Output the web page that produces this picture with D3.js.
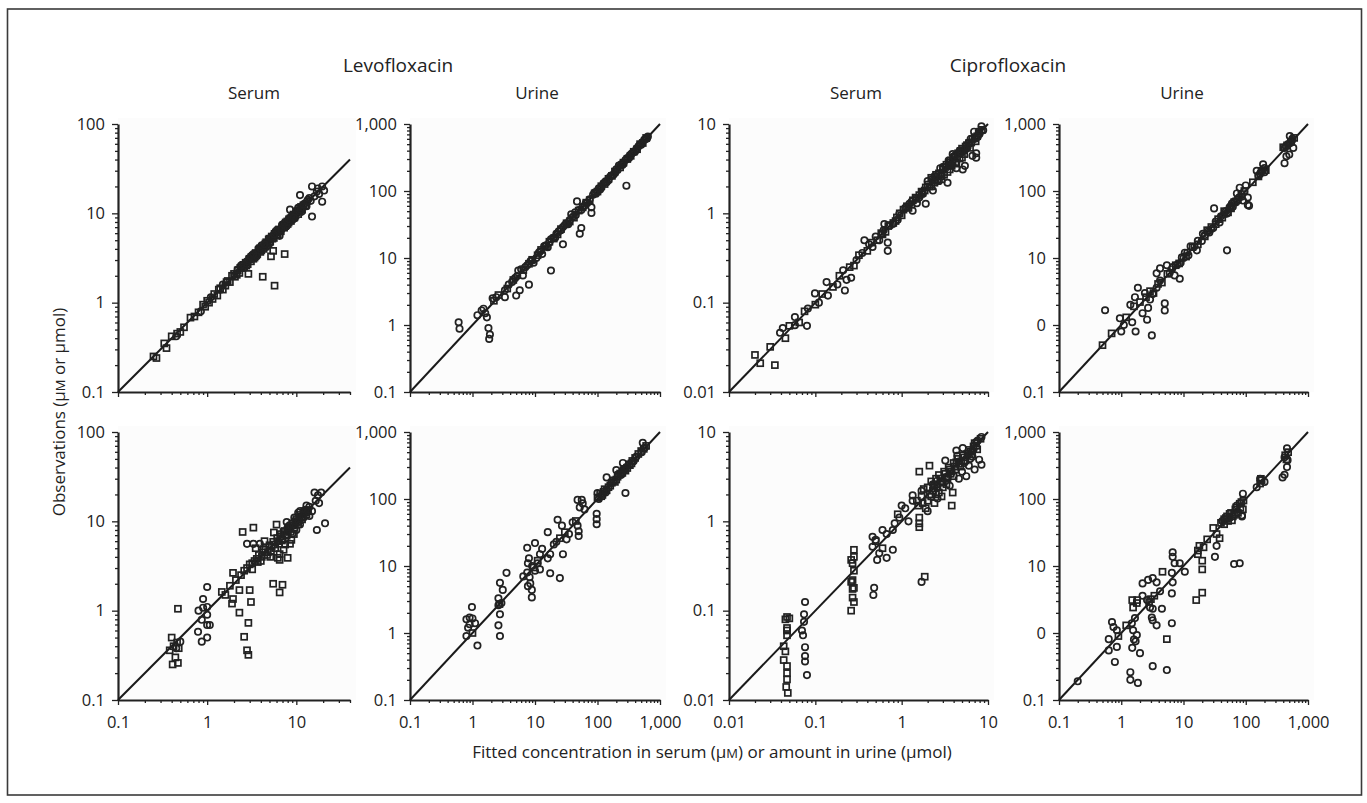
<!DOCTYPE html>
<html>
<head>
<meta charset="utf-8">
<script src="https://cdn.jsdelivr.net/npm/d3@7"></script>
<style>
  body { margin: 0; background: #fff; }
  text { font-family: "Open Sans", sans-serif; fill: #222; }
</style>
</head>
<body>
<svg id="chart" width="1367" height="803"></svg>
<script>
// Column / row headings
const drugs = ['Levofloxacin', 'Ciprofloxacin'];
const matrices = ['Serum', 'Urine', 'Serum', 'Urine'];

// Tick values and their printed labels (the original prints "0" for 1 on the cipro urine y axis)
const levoSerumTicks = [0.1, 1, 10, 100];
const levoSerumLabels = ['0.1', '1', '10', '100'];
const urineTicks = [0.1, 1, 10, 100, 1000];
const urineLabels = ['0.1', '1', '10', '100', '1,000'];
const ciproUrineYLabels = ['0.1', '0', '10', '100', '1,000'];
const ciproSerumTicks = [0.01, 0.1, 1, 10];
const ciproSerumLabels = ['0.01', '0.1', '1', '10'];
const levoSerumXTicks = [0.1, 1, 10];
const levoSerumXLabels = ['0.1', '1', '10'];

// Observations vs fitted values, [fitted, observed]
const levoSerumTopSq = [[0.25,0.25],[0.27,0.24],[0.33,0.35],[0.35,0.31],[0.4,0.42],[0.46,0.45],[0.5,0.47],[0.55,0.53],[0.65,0.68],[0.72,0.7],[0.8,0.78],[0.9,0.95],[0.95,0.9],[1.05,1.0],[1.2,1.25],[1.3,1.2],[1.4,1.45],[1.6,1.55],[1.7,1.75],[1.8,1.7],[1.9,2.0],[2.05,1.95],[2.2,2.3],[2.3,2.15],[2.45,2.5],[2.6,2.5],[2.7,2.8],[2.85,2.7],[2.9,2.1],[3.0,3.1],[3.1,2.9],[3.25,3.35],[3.4,3.2],[3.5,3.6],[3.65,3.5],[3.8,3.95],[3.95,3.7],[4.1,4.2],[4.2,1.95],[4.3,4.0],[4.5,4.6],[4.7,4.4],[4.9,5.1],[5.1,4.8],[5.2,3.3],[5.3,5.5],[5.5,3.8],[5.6,5.3],[5.7,1.55],[5.9,6.1],[6.2,5.8],[6.4,6.6],[6.7,6.3],[7.0,7.2],[7.3,6.9],[7.4,3.5],[7.6,7.9],[8.0,7.6],[8.3,8.6],[8.7,8.2],[9.1,9.4],[9.5,9.0],[10,10.3],[10.5,9.8],[11,11.4],[11.6,11],
  [1.0,1.05],[1.15,1.1],[1.35,1.4],[1.5,1.4],[1.65,1.7],[2.0,2.1],[2.15,2.05],[2.35,2.45],[2.55,2.65],[2.75,2.6],[2.95,3.05],[3.15,3.25],[3.3,3.1],[3.55,3.45],[3.75,3.85],[3.9,4.05],[4.05,3.85],[4.4,4.3],[4.6,4.75],[4.8,4.6],[5.0,5.2],[5.4,5.2],[5.7,5.9],[6.0,5.7],[6.3,6.5],[6.6,6.4],[6.9,7.0],[7.2,7.4],[7.5,7.2],[7.9,8.1],[8.2,7.9],[8.6,8.8],[9.0,8.8],[9.3,9.7],[9.8,9.5],[10.3,10.6],[10.8,10.4],[11.3,11.8],[12,12.3],[12.6,12.2]];
const levoSerumTopCirc = [[0.45,0.42],[0.85,0.8],[1.1,1.15],[1.5,1.6],[2.2,2.35],[2.6,2.45],[3.1,3.3],[3.6,3.3],[4.1,4.4],[4.6,4.2],[5.0,4.6],[6.0,6.4],[6.5,5.6],[7.0,7.5],[7.8,7.2],[8.5,11],[9.0,8.4],[9.6,8.8],[10,10.5],[10.5,11.5],[11,16],[11.5,10.5],[12.3,12.8],[13,12],[13.5,14.2],[14.5,13.8],[15,20],[15,9.2],[16,15.5],[17,17.5],[18,16.5],[19.5,20],[20.5,18],[19.5,13.5],[17.5,19],
  [2.4,2.6],[2.8,2.9],[3.3,3.5],[3.9,4.1],[4.4,4.5],[5.2,5.4],[5.6,5.8],[6.8,6.6],[7.4,7.8],[8.2,8.6],[8.8,9.2],[9.3,9.0],[11.2,11.0],[12.0,12.5],[13.2,13.6],[14.0,14.8]];

const levoUrineTopCirc = [[0.6,1.1],[0.62,0.88],[1.2,1.4],[1.4,1.65],[1.5,1.75],[1.6,1.5],[1.7,1.3],[1.8,0.9],[1.9,0.72],[1.85,0.62],[2.1,2.5],[2.4,2.6],[3.3,3.3],[3.3,2.6],[3.8,4],[4.3,4.4],[5,2.75],[5.4,6.5],[5.7,3.3],[6,6.8],[6.4,5.5],[7,7.3],[8,4],[8.5,9],[9.5,8.5],[10.5,10],[12,12.5],[13,11.5],[14,15],[16,14.5],[18,6.5],[18,19],[21,20],[24,25],[28,16],[30,31],[34,32],[38,45],[44,48],[47,70],[52,23],[55,28],[55,52],[62,60],[70,68],[80,57],[80,47],[85,88],[95,92],[110,105],[125,130],[140,135],[160,165],[180,175],[200,210],[220,240],[250,245],[280,290],[290,120],[320,310],[350,360],[400,390],[450,460],[500,490],[560,580],[620,610],
  [4.8,5],[5.2,5.4],[7.5,7.8],[9,9.2],[11.5,12],[15,15.5],[17,17],[19.5,20],[22,23],[26,26],[28,29],[32,33],[36,37],[40,41],[45,44],[50,52],[58,58],[65,66],[75,75],[90,95],[100,100],[105,110],[115,112],[135,140],[150,145],[170,172],[190,185],[210,205],[240,250],[260,255],[300,310],[330,340],[370,375],[420,425],[470,480],[520,530],[580,590],[640,650]];
const levoUrineTopSq = [[2.2,2.3],[2.6,2.8],[3.6,3.5],[4.5,4.7],[6.5,6.6],[8,8.2],[9,9.4],[11,11],[12.5,13.2],[15,14.8],[17,17.5],[20,19.5],[23,22.5],[26,27],[32,33],[36,35],[42,40],[50,51],[58,57],[66,67],[75,73],[90,92],[100,98],[115,118],[130,127],[150,152],[170,168],[190,195],[230,225],[260,265],[300,300],[340,335],[380,385],[430,420],[480,500],[530,520],[600,620]];

const ciproSerumTopCirc = [[0.039,0.046],[0.042,0.052],[0.058,0.056],[0.08,0.055],[0.058,0.069],[0.082,0.086],[0.099,0.127],[0.11,0.1],[0.14,0.12],[0.135,0.17],[0.18,0.16],[0.22,0.137],[0.21,0.23],[0.26,0.19],[0.23,0.18],[0.3,0.3],[0.35,0.36],[0.37,0.5],[0.46,0.42],[0.55,0.5],[0.69,0.47],[0.69,0.38],[0.63,0.76],[0.79,0.76],[0.94,0.99],[1.23,1.28],[1.34,1.07],[1.6,1.5],[1.9,1.28],[2.3,1.8],[2.7,2.3],[3.4,2.2],[4.3,3.2],[5.1,3.1],[5.4,3.4],[6.6,4.4],[7.3,4.7],[7.3,4.2],[6.9,8.2],[8.4,9.4],[7.9,7.7],[7.2,6.9],[3.9,4.6],[4.7,5.0],[5.5,5.2],[6.0,6.2],[2.0,2.3],[1.1,1.15],[0.5,0.55],[1.5,1.3],[2.8,3.2],[3.5,3.9],
  [0.42,0.45],[0.62,0.65],[0.9,0.85],[1.3,1.35],[1.75,1.65],[2.4,2.6],[3.0,3.3],[3.6,3.5],[4.2,4.5],[4.9,4.8],[5.8,5.5],[6.3,6.8],[7.6,7.2],[8.8,8.5]];
const ciproSerumTopSq = [[0.02,0.026],[0.023,0.021],[0.034,0.02],[0.03,0.032],[0.045,0.04],[0.05,0.055],[0.065,0.06],[0.075,0.08],[0.1,0.095],[0.12,0.125],[0.16,0.15],[0.19,0.2],[0.25,0.25],[0.28,0.26],[0.32,0.34],[0.4,0.38],[0.45,0.47],[0.52,0.5],[0.58,0.6],[0.65,0.62],[0.72,0.74],[0.8,0.78],[0.88,0.9],[1.0,0.95],[1.15,1.2],[1.3,1.25],[1.45,1.5],[1.6,1.6],[1.75,1.7],[1.9,1.95],[2.1,2.0],[2.2,2.5],[2.4,2.2],[2.5,2.7],[2.6,2.3],[2.8,2.6],[3.0,3.1],[3.1,2.7],[3.3,3.5],[3.4,2.9],[3.6,3.7],[3.8,3.4],[4.0,4.2],[4.2,3.7],[4.5,4.7],[4.7,4.1],[5.0,5.3],[5.3,4.6],[5.7,5.8],[6.2,5.4],[6.6,6.8],[7.2,6.4],[7.8,7.9],[8.5,8.6],
  [0.6,0.58],[0.7,0.72],[0.85,0.82],[0.95,1.0],[1.05,1.1],[1.2,1.15],[1.35,1.4],[1.5,1.45],[1.7,1.75],[1.85,1.8],[2.0,2.1],[2.3,2.4],[2.45,2.35],[2.7,2.8],[2.9,2.8],[3.2,3.3],[3.5,3.4],[3.7,3.9],[3.9,3.8],[4.1,4.3],[4.4,4.2],[4.8,5.0],[5.2,5.1],[5.5,5.6],[6.0,6.1],[6.4,6.2],[7.0,7.1],[7.5,7.3],[8.0,8.2],[2.2,2.0],[2.9,2.4],[3.6,3.1],[4.3,3.6],[5.0,4.2]];

const ciproUrineTopCirc = [[0.55,1.66],[0.95,1.26],[1.0,0.8],[1.1,1.0],[1.4,2.0],[1.66,2.6],[1.85,3.6],[1.5,1.1],[1.7,0.8],[3.1,0.7],[2.2,1.5],[2.6,1.2],[2.7,1.8],[3.2,2.9],[3.7,3.6],[4.2,4.6],[3.7,5.9],[4.2,7],[5.4,7.8],[5.0,2.1],[5.0,1.65],[6.7,7.3],[7.2,5.5],[8.7,4.9],[9.4,10.2],[10.5,12],[13,15],[16.4,13],[19.7,18],[20.5,23],[26,24],[30,28],[38,34],[31,55],[50,13],[50,46],[55,57],[72,92],[80,112],[100,121],[108,80],[108,62],[113,60],[90,72],[150,200],[190,250],[200,220],[420,440],[510,660],[550,560],[580,440],[450,330],[420,260],[500,350],[2.4,3.0],[2.9,2.4],[6,6],[12,11],[60,65],[170,180],
  [6.5,6.8],[8,8],[9,8.5],[10,10],[11.5,12],[15,15],[17,18],[22,22],[25,25],[28,27],[33,35],[40,42],[45,45],[48,50],[58,60],[62,58],[66,70],[70,68],[78,80],[85,82],[95,98],[160,170],[175,190],[185,200],[200,190],[440,460],[480,500],[520,520],[560,600]];
const ciproUrineTopSq = [[0.5,0.5],[0.7,0.75],[1.2,1.3],[1.6,1.9],[2.0,2.2],[2.5,2.6],[2.9,3.2],[3.3,3.0],[3.9,4.1],[4.5,4.3],[5.5,5.8],[7.5,7.8],[8.5,8.3],[11,10.5],[14,14.5],[17,16],[22,21],[24,26],[28,29],[33,32],[36,38],[42,40],[45,50],[52,48],[58,55],[65,68],[75,74],[85,90],[95,100],[130,135],[160,165],[180,200],[210,205],[400,450],[460,480],[530,540],[600,620]];

const levoSerumBotSq = [[0.47,1.05],[0.4,0.5],[0.46,0.44],[0.42,0.4],[0.38,0.36],[0.48,0.38],[0.41,0.25],[0.47,0.26],[0.44,0.3],[1.46,1.62],[1.95,2.65],[2.3,1.7],[1.9,1.2],[1.95,1.35],[3.0,1.7],[3.1,1.25],[2.3,0.95],[2.9,0.73],[2.6,0.51],[2.8,0.36],[2.9,0.32],[2.5,7.6],[3.3,8.5],[5.5,2.0],[7.0,1.95],[6.5,1.6],[6.5,3.7],[8.0,3.9],[6.5,4.3],[1.6,1.5],[1.8,1.9],[2.1,2.2],[2.4,2.5],[2.6,2.8],[2.8,3.0],[3.0,3.3],[3.2,2.9],[3.4,3.6],[3.6,3.8],[3.8,4.2],[4.0,3.6],[4.2,4.5],[4.5,4.8],[4.7,4.2],[5.0,5.4],[5.2,4.6],[5.5,5.9],[5.8,5.0],[6.1,6.5],[6.4,5.6],[6.7,7.2],[7.0,6.3],[7.4,7.8],[7.8,6.9],[8.2,8.6],[8.6,7.6],[9.0,9.5],[9.5,8.5],[10,10.6],[10.5,9.3],[11,11.8],[11.6,10.5],[12.3,13],[13,12],[3.5,5.0],[4.4,6.0],[5.6,7.5],[6.0,9.2],[7.2,4.8],[8.8,6.2],
  [3.2,3.4],[3.7,3.5],[4.1,4.0],[4.3,4.9],[4.8,4.5],[5.3,5.2],[5.7,5.5],[6.2,6.0],[6.6,6.8],[6.9,6.1],[7.2,7.6],[7.6,7.1],[8.0,8.0],[8.4,8.2],[9.2,9.0],[9.8,10],[10.2,9.8],[10.8,11],[11.4,11.3],[12,12.5],[12.8,12.6],[13.4,13.4],[6.2,3.9],[7.5,5.5],[5.1,4.0],[8.5,5.6],[9.4,7.2]];
const levoSerumBotCirc = [[1.0,1.84],[0.9,1.35],[0.8,1.0],[0.9,1.08],[1.0,1.1],[0.87,0.79],[1.0,0.69],[1.07,0.69],[0.79,0.58],[0.87,0.45],[1.0,0.5],[1.0,0.9],[2.8,5.6],[3.3,5.6],[3.9,5.6],[17,8],[21,9.5],[16,21],[19,21],[14,14.5],[15,13],[16.5,17],[18,16],[13,15],[12,11],[11,13],[9.5,11],[9,7.2],[8,8.5],[10.5,12.5],[14,11.5],[17.5,19.5],[0.5,0.45],[0.45,0.38],
  [7.8,9.8],[8.4,9.0],[9.8,10],[10.6,10],[11.6,11.2],[12.6,13.5],[13.5,13],[10,8],[11,9.2]];

const levoUrineBotCirc = [[0.98,2.44],[0.8,1.6],[0.9,1.7],[1.0,1.65],[0.85,1.2],[0.9,1.35],[0.8,0.9],[1.2,0.65],[2.6,3.3],[2.75,5.6],[3.5,7.9],[3.05,4.4],[2.75,1.9],[2.6,1.3],[2.75,0.9],[2.6,2.6],[2.9,2.8],[7.5,18.7],[10,22],[7.7,11],[8.2,6.8],[8.4,5.5],[8.9,4.4],[8.9,3.4],[7.5,8.0],[7.7,5.0],[12,15],[11,11],[12,8.9],[17.5,7.8],[16,13],[17.5,15],[20,21],[16,32],[23,49],[27,40],[25,6.6],[22,23],[32,25],[28,15],[48,97],[52,75],[56,97],[58,86],[62,70],[48,40],[50,33],[50,28],[97,60],[97,50],[97,42],[100,123],[280,123],[140,210],[200,270],[255,345],[530,690],[570,580],[510,500],[9,10],[10,8.5],[6.5,7],[8,13],[13,18],[35,30],[40,45],[1.1,1.4],
  [105,100],[135,125],[165,170],[240,230],[290,300],[380,370],[420,430]];
const levoUrineBotSq = [[1.0,1.0],[2.7,2.7],[9.5,9.5],[11,12],[25,26],[30,32],[45,47],[100,105],[110,120],[120,115],[130,140],[150,150],[170,175],[190,180],[210,215],[230,240],[260,270],[300,290],[320,330],[350,340],[450,470],[500,520],[550,560],[600,620],
  [115,110],[125,128],[140,135],[160,158],[180,190],[200,195],[220,230],[250,245],[270,280],[280,265],[330,320],[360,370],[400,410]];

const ciproSerumBotSq = [[0.047,0.085],[0.045,0.08],[0.05,0.082],[0.047,0.064],[0.047,0.053],[0.047,0.06],[0.043,0.04],[0.043,0.028],[0.047,0.024],[0.047,0.02],[0.047,0.017],[0.046,0.014],[0.048,0.012],[0.045,0.035],[0.26,0.21],[0.27,0.175],[0.28,0.125],[0.26,0.1],[0.26,0.37],[0.28,0.48],[0.28,0.4],[0.27,0.34],[0.28,0.28],[0.27,0.22],[0.28,0.18],[0.27,0.14],[1.6,1.1],[1.6,0.95],[1.6,0.86],[1.6,3.6],[2.1,4.2],[1.85,0.24],[3.8,1.5],[2.7,2.1],[2.9,1.9],[2.5,2.6],[3.9,2.1],[1.5,1.7],[1.7,1.9],[1.8,2.3],[2.0,2.4],[2.2,2.8],[2.3,2.2],[2.5,3.0],[2.7,3.3],[2.9,2.8],[3.1,3.6],[3.3,3.1],[3.5,4.0],[3.7,3.4],[4.0,4.5],[4.2,3.8],[4.5,5.0],[4.8,4.1],[5.1,5.5],[5.5,4.8],[6.0,6.3],[6.5,5.6],[7.0,7.5],[7.5,6.4],[8.2,8.4],[2.4,1.6],[3.0,2.4],[1.9,1.4],[0.9,1.2],[0.5,0.6],[0.6,0.5],
  [1.55,1.5],[1.75,1.6],[2.1,2.0],[2.2,1.9],[2.4,2.5],[2.6,2.4],[2.8,3.0],[3.0,2.7],[3.2,3.4],[3.4,3.0],[3.6,3.8],[3.8,3.6],[4.1,4.1],[4.3,4.6],[4.6,4.4],[4.9,4.7],[5.3,5.2],[5.8,5.7],[6.3,6.0],[6.8,6.9],[7.3,7.0],[2.0,1.7],[2.5,2.0],[3.3,2.6],[4.0,3.2]];
const ciproSerumBotCirc = [[0.076,0.125],[0.074,0.091],[0.074,0.075],[0.076,0.039],[0.076,0.031],[0.076,0.027],[0.08,0.019],[0.072,0.053],[0.07,0.06],[0.47,0.15],[1.7,0.21],[0.48,0.18],[0.46,0.67],[0.5,0.62],[0.46,0.52],[0.55,0.44],[0.52,0.37],[0.67,0.39],[0.79,0.48],[0.67,0.72],[0.79,0.8],[0.83,0.95],[0.94,1.1],[1.0,1.5],[1.34,1.7],[1.34,1.95],[1.2,1.0],[5.6,3.2],[6.6,5.3],[7.9,4.9],[8.4,4.3],[6.6,6.1],[8.4,8.8],[7.3,7.7],[5.1,6.6],[4.3,6.2],[3.2,4.8],[4.6,3.0],[6.0,4.2],[7.0,3.8],[2.0,1.3],[2.6,1.8],[1.1,1.4],[0.6,0.8],[3.6,2.5],[5.0,3.6],
  [1.7,2.2],[2.3,2.6],[3.4,3.2],[4.4,5.4],[5.3,4.5],[6.2,5.0],[6.8,6.4],[7.6,8.0]];

const ciproUrineBotCirc = [[0.2,0.19],[0.63,0.81],[0.63,0.55],[0.79,0.37],[0.85,0.62],[1.4,0.26],[1.4,0.2],[1.85,0.18],[3.2,0.32],[5.4,0.28],[0.71,1.46],[0.75,1.23],[0.85,1.1],[1.48,1.4],[1.66,1.67],[1.78,0.93],[1.55,1.1],[2.2,3.6],[2.2,5.5],[2.7,6.2],[3.2,6.6],[3.7,5.7],[2.6,3.1],[2.9,2.4],[3.2,2.3],[3.1,1.7],[3.2,1.55],[3.7,1.3],[4.2,4.2],[4.5,2.3],[6.5,1.4],[6.7,16],[6.7,13.7],[7.2,11],[6.5,7.9],[6.7,5.7],[6.5,3.9],[8.7,11],[10.5,8.2],[32,13.7],[34,20],[80,11],[65,10.7],[87,57],[87,55],[90,120],[170,200],[200,180],[150,150],[460,570],[420,420],[460,300],[420,230],[390,210],[470,380],[1.5,0.6],[1.7,0.75],[2.0,0.5],[1.6,0.8],
  [42,47],[55,52],[72,80]];
const ciproUrineBotSq = [[1.55,2.4],[1.78,2.8],[1.5,3.1],[1.8,3.1],[4.6,8.2],[18,20],[20,12],[20,8.9],[20,4],[17,17],[21,19],[17,15],[24,25],[30,37],[34,30],[38,26],[45,50],[55,60],[60,48],[70,75],[75,62],[85,90],[90,70],[170,170],[175,200],[180,190],[430,450],[480,500],[450,390],[5.4,0.81],[16,3.1],[2.8,2.9],[3.0,3.2],[3.4,3.6],[1.2,1.3],[0.9,0.9],[45,42],[50,55],[65,58],
  [40,44],[48,52],[52,47],[58,62],[62,55],[68,70],[80,85],[82,74],[92,95]];

// Panel definitions (row 0 = top, row 1 = bottom)
const panels = [
  {row:0, col:0, xDomain:[0.1,40], yDomain:[0.1,100], xTicks:levoSerumXTicks, xLabels:levoSerumXLabels, yTicks:levoSerumTicks, yLabels:levoSerumLabels, circ:levoSerumTopCirc, sq:levoSerumTopSq},
  {row:0, col:1, xDomain:[0.1,1000], yDomain:[0.1,1000], xTicks:urineTicks, xLabels:urineLabels, yTicks:urineTicks, yLabels:urineLabels, circ:levoUrineTopCirc, sq:levoUrineTopSq},
  {row:0, col:2, xDomain:[0.01,10], yDomain:[0.01,10], xTicks:ciproSerumTicks, xLabels:ciproSerumLabels, yTicks:ciproSerumTicks, yLabels:ciproSerumLabels, circ:ciproSerumTopCirc, sq:ciproSerumTopSq},
  {row:0, col:3, xDomain:[0.1,1000], yDomain:[0.1,1000], xTicks:urineTicks, xLabels:urineLabels, yTicks:urineTicks, yLabels:ciproUrineYLabels, circ:ciproUrineTopCirc, sq:ciproUrineTopSq},
  {row:1, col:0, xDomain:[0.1,40], yDomain:[0.1,100], xTicks:levoSerumXTicks, xLabels:levoSerumXLabels, yTicks:levoSerumTicks, yLabels:levoSerumLabels, circ:levoSerumBotCirc, sq:levoSerumBotSq},
  {row:1, col:1, xDomain:[0.1,1000], yDomain:[0.1,1000], xTicks:urineTicks, xLabels:urineLabels, yTicks:urineTicks, yLabels:urineLabels, circ:levoUrineBotCirc, sq:levoUrineBotSq},
  {row:1, col:2, xDomain:[0.01,10], yDomain:[0.01,10], xTicks:ciproSerumTicks, xLabels:ciproSerumLabels, yTicks:ciproSerumTicks, yLabels:ciproSerumLabels, circ:ciproSerumBotCirc, sq:ciproSerumBotSq},
  {row:1, col:3, xDomain:[0.1,1000], yDomain:[0.1,1000], xTicks:urineTicks, xLabels:urineLabels, yTicks:urineTicks, yLabels:ciproUrineYLabels, circ:ciproUrineBotCirc, sq:ciproUrineBotSq}
];

const colX = [[118, 350], [410, 660], [729, 988], [1059, 1308]];
const rowY = [[124, 392], [432, 700]];
const ink = '#222';

const svg = d3.select('#chart');

// outer frame
svg.append('rect')
  .attr('x', 7.5).attr('y', 9).attr('width', 1354).attr('height', 786)
  .attr('fill', 'none').attr('stroke', '#3a3a3a').attr('stroke-width', 1.6);

// headings
const drugX = [398, 1008];
drugs.forEach((d, i) => {
  svg.append('text').attr('x', drugX[i]).attr('y', 72)
    .attr('text-anchor', 'middle').attr('font-size', 19).text(d);
});
const matX = [254, 537, 856, 1182];
matrices.forEach((m, i) => {
  svg.append('text').attr('x', matX[i]).attr('y', 99)
    .attr('text-anchor', 'middle').attr('font-size', 17).text(m);
});

const isMajor = v => Math.abs(Math.log10(v) - Math.round(Math.log10(v))) < 1e-6;

panels.forEach(p => {
  const [x0, x1] = colX[p.col];
  const [y0, y1] = rowY[p.row];
  const x = d3.scaleLog().domain(p.xDomain).range([x0, x1]);
  const y = d3.scaleLog().domain(p.yDomain).range([y1, y0]);
  const g = svg.append('g');

  // faint plot background
  g.append('rect').attr('x', x0).attr('y', y0 - 6)
    .attr('width', x1 - x0 + 6).attr('height', y1 - y0 + 6).attr('fill', '#fcfcfc');

  // minor ticks
  const xMinor = x.ticks().filter(v => !isMajor(v));
  const yMinor = y.ticks().filter(v => !isMajor(v));
  g.append('g').attr('transform', `translate(0,${y1})`)
    .call(d3.axisBottom(x).tickValues(xMinor).tickSize(3).tickSizeOuter(0).tickFormat(''))
    .call(a => a.select('.domain').remove());
  g.append('g').attr('transform', `translate(${x0},0)`)
    .call(d3.axisLeft(y).tickValues(yMinor).tickSize(3).tickSizeOuter(0).tickFormat(''))
    .call(a => a.select('.domain').remove());

  // major ticks + axis lines
  const xAxis = g.append('g').attr('transform', `translate(0,${y1})`)
    .call(d3.axisBottom(x).tickValues(p.xTicks).tickSize(5).tickSizeOuter(0).tickPadding(11)
      .tickFormat((d, i) => p.row === 1 ? p.xLabels[i] : ''));
  const yAxis = g.append('g').attr('transform', `translate(${x0},0)`)
    .call(d3.axisLeft(y).tickValues(p.yTicks).tickSize(6).tickSizeOuter(0).tickPadding(7)
      .tickFormat((d, i) => p.yLabels[i]));
  [xAxis, yAxis].forEach(a => {
    a.select('.domain').attr('stroke', ink).attr('stroke-width', 2.2);
    a.selectAll('text').attr('font-size', 16.5).attr('font-family', '"Open Sans", sans-serif').attr('fill', '#222');
  });
  g.selectAll('.tick line').attr('stroke', ink).attr('stroke-width', 1.3);

  // identity line
  const lo = Math.max(p.xDomain[0], p.yDomain[0]);
  const hi = Math.min(p.xDomain[1], p.yDomain[1]);
  g.append('line')
    .attr('x1', x(lo)).attr('y1', y(lo)).attr('x2', x(hi)).attr('y2', y(hi))
    .attr('stroke', '#1a1a1a').attr('stroke-width', 2);

  // markers
  g.selectAll('rect.sq').data(p.sq).enter().append('rect').attr('class', 'sq')
    .attr('x', d => x(d[0]) - 3).attr('y', d => y(d[1]) - 3)
    .attr('width', 6).attr('height', 6)
    .attr('fill', 'none').attr('stroke', ink).attr('stroke-width', 1.7);
  g.selectAll('circle.ci').data(p.circ).enter().append('circle').attr('class', 'ci')
    .attr('cx', d => x(d[0])).attr('cy', d => y(d[1])).attr('r', 3.2)
    .attr('fill', 'none').attr('stroke', ink).attr('stroke-width', 1.7);
});

// axis titles
svg.append('text')
  .attr('transform', 'translate(65,412) rotate(-90)')
  .attr('text-anchor', 'middle').attr('font-size', 17)
  .call(t => {
    t.append('tspan').text('Observations (μ');
    t.append('tspan').attr('font-size', 13).text('M');
    t.append('tspan').text(' or μmol)');
  });

svg.append('text')
  .attr('x', 712).attr('y', 758)
  .attr('text-anchor', 'middle').attr('font-size', 17)
  .call(t => {
    t.append('tspan').text('Fitted concentration in serum (μ');
    t.append('tspan').attr('font-size', 13).text('M');
    t.append('tspan').text(') or amount in urine (μmol)');
  });
</script>
</body>
</html>
